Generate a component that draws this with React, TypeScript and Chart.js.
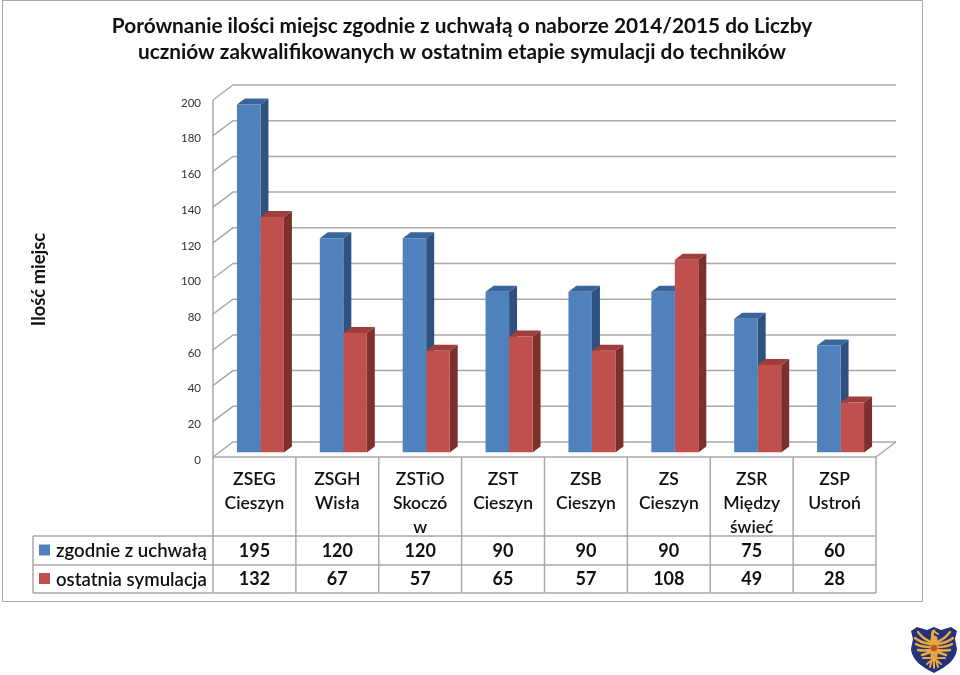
import React, { useEffect, useRef } from "react";
import { Chart, registerables } from "chart.js";

Chart.register(...registerables);

const categories: string[][] = [
  ["ZSEG", "Cieszyn"],
  ["ZSGH", "Wisła"],
  ["ZSTiO", "Skoczó", "w"],
  ["ZST", "Cieszyn"],
  ["ZSB", "Cieszyn"],
  ["ZS", "Cieszyn"],
  ["ZSR", "Między", "świeć"],
  ["ZSP", "Ustroń"],
];
const zgodnie = [195, 120, 120, 90, 90, 90, 75, 60];
const symulacja = [132, 67, 57, 65, 57, 108, 49, 28];
const seriesNames = ["zgodnie z uchwałą", "ostatnia symulacja"];
const titleLines = [
  "Porównanie ilości miejsc zgodnie z uchwałą o naborze 2014/2015 do Liczby",
  "uczniów zakwalifikowanych w ostatnim etapie symulacji do techników",
];
const yTitle = "Ilość miejsc";

const FONT = "Lato, Carlito, Calibri, 'Open Sans', sans-serif";
const GRID = "#a9a9a9";
const fronts = ["#4f81bd", "#c0504d"];
const sides = ["#2f5180", "#7d2f2d"];
const tops = ["#3a659c", "#a03e3b"];

const poly = (c: CanvasRenderingContext2D, pts: number[][], fill: string) => {
  c.beginPath();
  pts.forEach((p, i) => (i ? c.lineTo(p[0], p[1]) : c.moveTo(p[0], p[1])));
  c.closePath();
  c.fillStyle = fill;
  c.fill();
};

const line = (c: CanvasRenderingContext2D, pts: number[][]) => {
  c.beginPath();
  pts.forEach((p, i) => (i ? c.lineTo(p[0], p[1]) : c.moveTo(p[0], p[1])));
  c.stroke();
};

// wall, floor and the depth faces of each bar
const depthPlugin = {
  id: "depth",
  beforeDatasetsDraw(chart: any) {
    const c: CanvasRenderingContext2D = chart.ctx;
    const { x, y } = chart.scales;
    const fx = -6, fy = 4.5; // front plane relative to the bars
    const bx = 14, by = -10.5; // back wall relative to the bars
    c.save();
    c.strokeStyle = GRID;
    c.lineWidth = 1.5;
    y.ticks.forEach((t: any) => {
      const py = y.getPixelForValue(t.value);
      line(c, [
        [x.left + fx, py + fy],
        [x.left + bx, py + by],
        [x.right + bx, py + by],
      ]);
    });
    const y0 = y.getPixelForValue(0);
    const y200 = y.getPixelForValue(200);
    line(c, [[x.left + fx, y200 + fy], [x.left + fx, y0 + fy]]);
    line(c, [[x.right + fx, y0 + fy], [x.right + bx, y0 + by]]);
    chart.data.datasets.forEach((_: any, di: number) => {
      chart.getDatasetMeta(di).data.forEach((bar: any) => {
        const w = bar.width / 2;
        const l = bar.x - w, r = bar.x + w, t = bar.y, b = bar.base;
        const dx = 8, dy = -6;
        poly(c, [[r, t], [r + dx, t + dy], [r + dx, b + dy], [r, b]], sides[di]);
        poly(c, [[l, t], [l + dx, t + dy], [r + dx, t + dy], [r, t]], tops[di]);
      });
    });
    c.restore();
  },
};

// data table below the plot, values come from the chart's datasets
const tablePlugin = {
  id: "table",
  afterDraw(chart: any) {
    const c: CanvasRenderingContext2D = chart.ctx;
    const { x, y } = chart.scales;
    const n = chart.data.labels.length;
    const left = x.left - 6, right = x.right - 6;
    const step = (right - left) / n;
    const headTop = y.getPixelForValue(0) + 4.5;
    const rows = [536, 565, 593];
    const legendLeft = 33;
    c.save();
    c.strokeStyle = GRID;
    c.lineWidth = 1.5;
    line(c, [[left, headTop], [right, headTop]]);
    for (let i = 0; i <= n; i++) {
      const px = left + step * i;
      line(c, [[px, headTop], [px, rows[2]]]);
    }
    rows.forEach((ry) => line(c, [[legendLeft, ry], [right, ry]]));
    line(c, [[legendLeft, rows[0]], [legendLeft, rows[2]]]);
    c.textBaseline = "middle";
    chart.data.datasets.forEach((ds: any, di: number) => {
      const cy = (rows[di] + rows[di + 1]) / 2 + 0.5;
      c.fillStyle = fronts[di];
      c.fillRect(39, cy - 6.5, 11, 11);
      c.fillStyle = "#111";
      c.textAlign = "left";
      c.font = `600 18.6px ${FONT}`;
      c.fillText(seriesNames[di], 56, cy);
      c.textAlign = "center";
      c.font = `bold 18px ${FONT}`;
      ds.data.forEach((v: number, i: number) => {
        c.fillText(String(v), left + step * (i + 0.5), cy);
      });
    });
    // rotated axis title
    c.translate(39, 279.5);
    c.rotate(-Math.PI / 2);
    c.textAlign = "center";
    c.fillStyle = "#111";
    c.font = `bold 18.4px ${FONT}`;
    c.fillText(yTitle, 0, 0);
    c.restore();
  },
};

function Logo() {
  const gold = "#e8a83c";
  return (
    <svg
      width={48}
      height={48}
      viewBox="0 0 48 48"
      style={{ position: "absolute", left: 910, top: 625 }}
    >
      <path
        d="M1 6 L7 2 L17 5 L24 2 L31 5 L41 2 L47 6 L45 14 L47 24 C46 36 34 43 24 48 C14 43 2 36 1 24 L3 14 Z"
        fill="#23327c"
      />
      <g stroke={gold} fill="none" strokeLinecap="round" strokeLinejoin="round">
        <path d="M24 14 L24 31" strokeWidth="7" />
        <path d="M24 6 C22 7 22 10 23 14" strokeWidth="3" />
        <path d="M23 6 L28 9" strokeWidth="2" />
        <path d="M21 17 Q13 14 8 7 M21 19 Q11 18 5 13 M21 22 Q11 22 6 19 M21 25 Q13 26 8 25 M21 27 Q15 29 12 30" strokeWidth="2.4" />
        <path d="M27 17 Q35 14 40 7 M27 19 Q37 18 43 13 M27 22 Q37 22 42 19 M27 25 Q35 26 40 25 M27 27 Q33 29 36 30" strokeWidth="2.4" />
        <path d="M22 33 L13 33 M26 33 L35 33 M23 34 L17 39 M25 34 L31 39 M24 34 L24 43 M22 35 L20 42 M26 35 L28 42" strokeWidth="2" />
      </g>
      <circle cx="24" cy="23" r="3.2" fill="#c9502e" />
    </svg>
  );
}

export default function App() {
  const ref = useRef<HTMLCanvasElement>(null);
  useEffect(() => {
    const chart = new Chart(ref.current as HTMLCanvasElement, {
      type: "bar",
      data: {
        labels: categories as any,
        datasets: [
          { label: seriesNames[0], data: zgodnie, backgroundColor: fronts[0], categoryPercentage: 0.567, barPercentage: 1 },
          { label: seriesNames[1], data: symulacja, backgroundColor: fronts[1], categoryPercentage: 0.567, barPercentage: 1 },
        ],
      },
      plugins: [depthPlugin, tablePlugin],
      options: {
        animation: false,
        responsive: false,
        layout: { padding: { left: 42, right: 42, top: 0, bottom: 0 } },
        plugins: {
          legend: { display: false },
          tooltip: { enabled: false },
          title: {
            display: true,
            text: titleLines,
            color: "#111",
            font: { family: FONT, size: 20.8, weight: "bold", lineHeight: 1.25 },
            padding: { top: 13, bottom: 30.5 },
          },
        },
        scales: {
          x: {
            grid: { display: false, drawTicks: false },
            border: { display: false },
            afterFit: (s: any) => { s.height = 222.5; },
            ticks: {
              autoSkip: false,
              maxRotation: 0,
              minRotation: 0,
              padding: 14.5,
              labelOffset: -6,
              color: "#111",
              font: { family: FONT, size: 17.5, weight: "600", lineHeight: 1.37 },
            },
          },
          y: {
            min: 0,
            max: 200,
            grid: { display: false, drawTicks: false },
            border: { display: false },
            afterFit: (s: any) => { s.width = 177; },
            ticks: {
              stepSize: 20,
              padding: 18,
              labelOffset: 7.5,
              color: "#333",
              font: { family: FONT, size: 11.5 },
            },
          },
        },
      } as any,
    });
    return () => chart.destroy();
  }, []);
  return (
    <div style={{ position: "absolute", left: 0, top: 0, width: 960, height: 675, background: "#fff", overflow: "hidden" }}>
      <div style={{ position: "absolute", left: 2, top: 0, width: 919, height: 600, border: "1px solid #a9a9a9" }} />
      <canvas ref={ref} width={924} height={675} style={{ position: "absolute", left: 0, top: 0, display: "block" }} />
      <Logo />
    </div>
  );
}
